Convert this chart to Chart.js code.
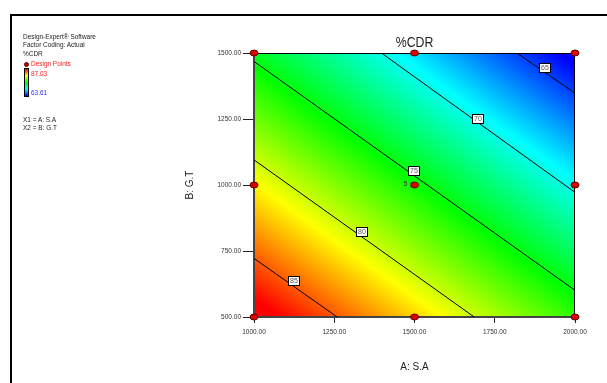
<!DOCTYPE html>
<html>
<head>
<meta charset="utf-8">
<script src="https://cdn.jsdelivr.net/npm/chart.js@4.4.1/dist/chart.umd.min.js"></script>
<style>
  html, body { margin: 0; padding: 0; background: #fff; }
  #wrap { position: relative; width: 607px; height: 383px; overflow: hidden; }
  #frame { position: absolute; left: 10px; top: 14px; width: 620px; height: 400px;
    border-left: 2px solid #000; border-top: 2px solid #000; }
  .t { position: absolute; font-family: "Liberation Sans", Arial, sans-serif; font-size: 7.5px;
    line-height: 9px; color: #222; white-space: nowrap; transform: scaleX(0.86); transform-origin: 0 50%; }
  .red { color: #ff2020; }
  .blue { color: #3030ff; }
  #dot { position: absolute; left: 24px; top: 62px; width: 3px; height: 3px; border-radius: 50%;
    background: #d00000; border: 1px solid #500000; }
  #bar { position: absolute; left: 24px; top: 68px; width: 3px; height: 27px; border: 1px solid #000;
    background: linear-gradient(#ff0000, #ffff00, #00ff00, #00ffff, #0000ff); }
  canvas { position: absolute; left: 0; top: 0; }
</style>
</head>
<body>
<div id="wrap">
  <canvas id="grafico" width="607" height="383"></canvas>
  <div id="frame"></div>
  <div class="t" style="left:23px;top:31.5px">Design-Expert® Software</div>
  <div class="t" style="left:23px;top:40.2px">Factor Coding: Actual</div>
  <div class="t" style="left:23px;top:48.8px">%CDR</div>
  <div id="dot"></div>
  <div class="t red" style="left:31px;top:59.2px">Design Points</div>
  <div id="bar"></div>
  <div class="t red" style="left:31px;top:69.2px">87.03</div>
  <div class="t blue" style="left:31px;top:88.2px">63.61</div>
  <div class="t" style="left:23px;top:114.5px">X1 = A: S.A</div>
  <div class="t" style="left:23px;top:122.8px">X2 = B: G.T</div>
</div>
<script>
// grid of the response surface
const factorA = [1000, 1250, 1500, 1750, 2000];
const factorB = [500, 750, 1000, 1250, 1500];
const cdrGrid = [
  [88.0, 85.1, 82.2, 79.3, 76.4],
  [84.6, 81.7, 78.8, 75.9, 73.0],
  [81.3, 78.4, 75.5, 72.6, 69.7],
  [77.9, 75.0, 72.1, 69.2, 66.4],
  [74.6, 71.7, 68.8, 65.9, 63.0]
];

// contour lines
const contourLevels = [65, 70, 75, 80, 85];
const contourStartA = [1819, 1397, 1000, 1000, 1000];
const contourStartB = [1500, 1500, 1468, 1095, 722];
const contourEndA = [2000, 2000, 2000, 1686, 1259];
const contourEndB = [1348, 972, 601, 500, 500];
const labelA = [1905, 1698, 1499, 1337, 1125];
const labelB = [1442, 1251, 1053, 822, 636];

// design points
const designA = [1000, 1500, 2000, 1000, 1500, 2000, 1000, 1500, 2000];
const designB = [500, 500, 500, 1000, 1000, 1000, 1500, 1500, 1500];
const centerRuns = "5";

const xTicks = [1000, 1250, 1500, 1750, 2000];
const yTicks = [500, 750, 1000, 1250, 1500];

const corMin = 63.61;
const corMax = 87.03;
const fonteTicks = "'Liberation Sans', Arial";

function interpolar(a, b) {
  let i = 0, j = 0;
  while (i < factorA.length - 2 && a > factorA[i + 1]) i++;
  while (j < factorB.length - 2 && b > factorB[j + 1]) j++;
  const ta = (a - factorA[i]) / (factorA[i + 1] - factorA[i]);
  const tb = (b - factorB[j]) / (factorB[j + 1] - factorB[j]);
  const v00 = cdrGrid[j][i], v10 = cdrGrid[j][i + 1];
  const v01 = cdrGrid[j + 1][i], v11 = cdrGrid[j + 1][i + 1];
  return (v00 * (1 - ta) + v10 * ta) * (1 - tb) + (v01 * (1 - ta) + v11 * ta) * tb;
}

function corDe(valor) {
  let t = (valor - corMin) / (corMax - corMin);
  t = Math.max(0, Math.min(1, t));
  const paragens = [[0, 0, 255], [0, 255, 255], [0, 255, 0], [255, 255, 0], [255, 0, 0]];
  const pos = t * 4;
  const k = Math.min(3, Math.floor(pos));
  const f = pos - k;
  const c0 = paragens[k], c1 = paragens[k + 1];
  return [0, 1, 2].map(n => Math.round(c0[n] + (c1[n] - c0[n]) * f));
}

const superficie = {
  id: "superficie",
  beforeDatasetsDraw(chart) {
    const { ctx, chartArea: ca, scales } = chart;
    const x0 = Math.round(ca.left), y0 = Math.round(ca.top);
    const w = Math.round(ca.right) - x0, h = Math.round(ca.bottom) - y0;
    const img = ctx.createImageData(w, h);
    for (let py = 0; py < h; py++) {
      const b = scales.y.getValueForPixel(y0 + py + 0.5);
      for (let px = 0; px < w; px++) {
        const a = scales.x.getValueForPixel(x0 + px + 0.5);
        const c = corDe(interpolar(a, b));
        const idx = (py * w + px) * 4;
        img.data[idx] = c[0];
        img.data[idx + 1] = c[1];
        img.data[idx + 2] = c[2];
        img.data[idx + 3] = 255;
      }
    }
    ctx.putImageData(img, x0, y0);
    ctx.save();
    ctx.strokeStyle = "#000";
    ctx.lineWidth = 1;
    ctx.strokeRect(x0 + 0.5, y0 + 0.5, w - 1, h);
    ctx.strokeStyle = "#444";
    ctx.lineWidth = 2;
    ctx.beginPath();
    ctx.moveTo(x0, y0);
    ctx.lineTo(x0, y0 + h);
    ctx.lineTo(x0 + w, y0 + h);
    ctx.stroke();
    ctx.restore();
  },
  afterDatasetsDraw(chart) {
    const { ctx, scales } = chart;
    ctx.save();
    ctx.font = "7px " + fonteTicks;
    ctx.textAlign = "center";
    ctx.textBaseline = "middle";
    contourLevels.forEach((nivel, i) => {
      const x = Math.round(scales.x.getPixelForValue(labelA[i]));
      const y = Math.round(scales.y.getPixelForValue(labelB[i]));
      ctx.fillStyle = "#fff";
      ctx.fillRect(x - 6, y - 5, 12, 10);
      ctx.strokeStyle = "#000";
      ctx.lineWidth = 1;
      ctx.strokeRect(x - 5.5, y - 4.5, 11, 9);
      ctx.fillStyle = "#555";
      ctx.fillText(String(nivel), x, y + 0.5);
    });
    const cx = scales.x.getPixelForValue(1500);
    const cy = scales.y.getPixelForValue(1000);
    ctx.fillStyle = "#333";
    ctx.fillText(centerRuns, cx - 9, cy - 1);

    ctx.fillStyle = "#222";
    const meio = (chart.chartArea.left + chart.chartArea.right) / 2;
    ctx.save();
    ctx.translate(meio, 43);
    ctx.scale(0.88, 1);
    ctx.font = "14px 'Liberation Sans', Arial";
    ctx.fillText("%CDR", 0, 0);
    ctx.restore();
    ctx.font = "10px 'Liberation Sans', Arial";
    ctx.fillText("A: S.A", meio, 367);
    ctx.translate(190, (chart.chartArea.top + chart.chartArea.bottom) / 2);
    ctx.rotate(-Math.PI / 2);
    ctx.fillText("B: G.T", 0, 0);
    ctx.restore();
  }
};

const ponto = document.createElement("canvas");
ponto.width = 10;
ponto.height = 8;
(() => {
  const c = ponto.getContext("2d");
  c.fillStyle = "#e00000";
  c.strokeStyle = "#600000";
  c.lineWidth = 1;
  c.beginPath();
  c.ellipse(5, 4, 4, 3, 0, 0, Math.PI * 2);
  c.fill();
  c.stroke();
})();

const datasets = [{
  label: "Design Points",
  data: designA.map((a, i) => ({ x: a, y: designB[i] })),
  pointStyle: ponto,
  pointRadius: 4,
  showLine: false,
  clip: false
}];

contourLevels.forEach((nivel, i) => {
  datasets.push({
    label: String(nivel),
    data: [
      { x: contourStartA[i], y: contourStartB[i] },
      { x: contourEndA[i], y: contourEndB[i] }
    ],
    showLine: true,
    borderColor: "#000",
    borderWidth: 1,
    pointRadius: 0
  });
});

const eixo = (min, max, ticks, comp, pad) => ({
  type: "linear",
  min,
  max,
  afterBuildTicks: s => { s.ticks = ticks.map(v => ({ value: v })); },
  ticks: {
    callback: v => Number(v).toFixed(2),
    font: { family: fonteTicks, size: 6.5 },
    color: "#333",
    padding: pad,
    maxRotation: 0,
    autoSkip: false
  },
  grid: { drawOnChartArea: false, drawTicks: true, tickLength: comp, color: "#222", lineWidth: 1 },
  border: { display: false }
});

const grafico = new Chart(document.getElementById("grafico"), {
  type: "scatter",
  data: { datasets },
  plugins: [superficie],
  options: {
    responsive: false,
    animation: false,
    events: [],
    layout: { padding: { top: 53, right: 32, left: 0, bottom: 0 } },
    plugins: { legend: { display: false }, tooltip: { enabled: false }, title: { display: false } },
    scales: {
      x: Object.assign(eixo(1000, 2000, xTicks, 6, 5), { afterFit: s => { s.height = 66; } }),
      y: Object.assign(eixo(500, 1500, yTicks, 11, 2), { afterFit: s => { s.width = 254; } })
    }
  }
});
</script>
</body>
</html>
